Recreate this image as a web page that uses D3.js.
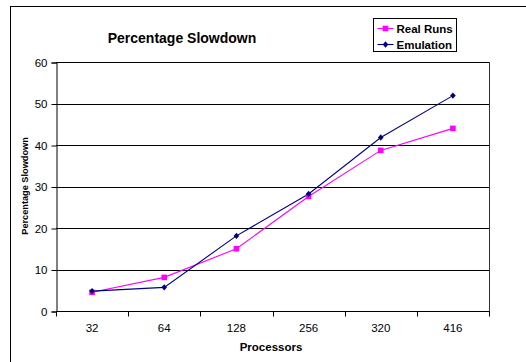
<!DOCTYPE html>
<html>
<head>
<meta charset="utf-8">
<script src="https://cdn.jsdelivr.net/npm/d3@7"></script>
<style>
  html, body { margin: 0; padding: 0; background: #fff; }
  svg { display: block; font-family: "Liberation Sans", Arial, sans-serif; }
</style>
</head>
<body>
<svg id="chart" width="526" height="362"></svg>
<script>
// Processor counts (categorical x axis)
const processors = ["32", "64", "128", "256", "320", "416"];
// Percentage slowdown per processor count
const realRuns  = [4.5, 8.1, 15.0, 27.6, 38.7, 44.0];
const emulation = [4.8, 5.7, 18.1, 28.2, 41.8, 51.9];
const yTicks = [0, 10, 20, 30, 40, 50, 60];

const svg = d3.select("#chart");

// Outer chart frame
svg.append("rect")
  .attr("x", 10.5).attr("y", 6.5)
  .attr("width", 540).attr("height", 380)
  .attr("fill", "#fff").attr("stroke", "#000").attr("stroke-width", 1);

const plot = { left: 56, top: 62, right: 489, bottom: 311 };

const x = d3.scaleBand().domain(processors).range([plot.left, plot.right]);
const y = d3.scaleLinear().domain([0, 60]).range([plot.bottom, plot.top]);

// Horizontal gridlines
svg.append("g").selectAll("line")
  .data(yTicks.filter(t => t > 0))
  .join("line")
  .attr("x1", plot.left).attr("x2", plot.right)
  .attr("y1", d => Math.round(y(d)) + 0.5).attr("y2", d => Math.round(y(d)) + 0.5)
  .attr("stroke", "#000").attr("stroke-width", 1);

// Right border of plot area
svg.append("line")
  .attr("x1", plot.right + 0.5).attr("x2", plot.right + 0.5)
  .attr("y1", plot.top).attr("y2", plot.bottom)
  .attr("stroke", "#333");

// Y axis
const yAxis = d3.axisLeft(y).tickValues(yTicks).tickSize(5).tickPadding(4);
const gy = svg.append("g").attr("transform", `translate(${plot.left + 0.5},0.5)`).call(yAxis);
gy.select(".domain").attr("stroke", "#000");
gy.selectAll(".tick line").attr("stroke", "#000");
gy.selectAll(".tick text").attr("font-size", 11.5).attr("fill", "#000")
  .attr("font-family", "Liberation Sans, Arial, sans-serif");

// X axis: ticks sit between categories
const gx = svg.append("g").attr("transform", `translate(0,${plot.bottom + 0.5})`);
gx.append("line")
  .attr("x1", plot.left).attr("x2", plot.right + 1)
  .attr("stroke", "#000");
const boundaries = processors.map(p => x(p)).concat([plot.right]);
gx.selectAll("line.tk").data(boundaries).join("line")
  .attr("class", "tk")
  .attr("x1", d => Math.round(d) + 0.5).attr("x2", d => Math.round(d) + 0.5)
  .attr("y1", 0).attr("y2", 5)
  .attr("stroke", "#000");
gx.selectAll("text").data(processors).join("text")
  .attr("x", d => x(d) + x.bandwidth() / 2)
  .attr("y", 20)
  .attr("text-anchor", "middle")
  .attr("font-size", 11.5)
  .attr("fill", "#000")
  .text(d => d);

// Lines and markers
const line = d3.line()
  .x((d, i) => x(processors[i]) + x.bandwidth() / 2)
  .y(d => y(d));

const series = [
  { name: "Real Runs", values: realRuns, color: "#ff00ff", shape: "square" },
  { name: "Emulation", values: emulation, color: "#000080", shape: "diamond" }
];

series.forEach(s => {
  svg.append("path")
    .datum(s.values)
    .attr("d", line)
    .attr("fill", "none")
    .attr("stroke", s.color)
    .attr("stroke-width", 1.1);
});

function drawMarker(g, shape, cx, cy, color) {
  if (shape === "square") {
    g.append("rect")
      .attr("x", cx - 2.8).attr("y", cy - 2.8)
      .attr("width", 5.6).attr("height", 5.6)
      .attr("fill", color);
  } else {
    g.append("path")
      .attr("d", `M${cx},${cy - 3.2}L${cx + 2.8},${cy}L${cx},${cy + 3.2}L${cx - 2.8},${cy}Z`)
      .attr("fill", color);
  }
}

series.forEach(s => {
  const g = svg.append("g");
  s.values.forEach((v, i) => {
    drawMarker(g, s.shape, x(processors[i]) + x.bandwidth() / 2, y(v), s.color);
  });
});

// Title
svg.append("text")
  .attr("x", 182).attr("y", 43)
  .attr("text-anchor", "middle")
  .attr("font-size", 14).attr("font-weight", "bold")
  .text("Percentage Slowdown");

// Axis titles
svg.append("text")
  .attr("x", 271).attr("y", 351)
  .attr("text-anchor", "middle")
  .attr("font-size", 11.5).attr("font-weight", "bold")
  .text("Processors");

svg.append("text")
  .attr("transform", "translate(28,186) rotate(-90)")
  .attr("text-anchor", "middle")
  .attr("font-size", 9.2).attr("font-weight", "bold")
  .text("Percentage Slowdown");

// Legend
const lg = svg.append("g").attr("transform", "translate(373.5,18.5)");
lg.append("rect")
  .attr("width", 83).attr("height", 33)
  .attr("fill", "#fff").attr("stroke", "#000");
series.forEach((s, i) => {
  const cy = 10 + i * 16;
  lg.append("line")
    .attr("x1", 4).attr("x2", 20)
    .attr("y1", cy).attr("y2", cy)
    .attr("stroke", s.color).attr("stroke-width", 1.1);
  drawMarker(lg, s.shape, 12, cy, s.color);
  lg.append("text")
    .attr("x", 23).attr("y", cy + 4)
    .attr("font-size", 11.5).attr("font-weight", "bold")
    .text(s.name);
});
</script>
</body>
</html>
